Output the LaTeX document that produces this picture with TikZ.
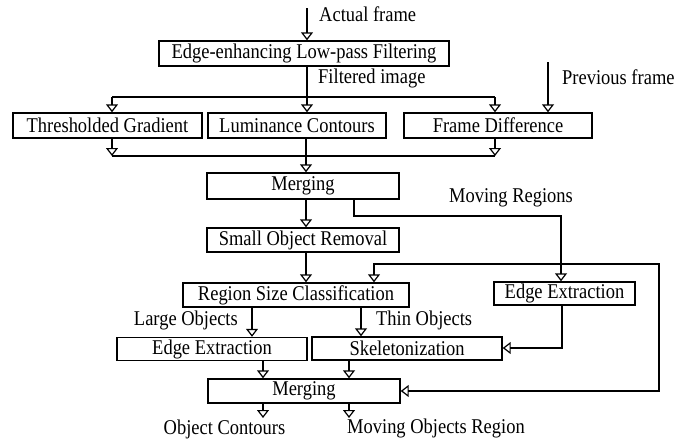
\documentclass[tikz,border=0pt]{standalone}
\usepackage{fontspec}
\setmainfont[FakeStretch=0.88]{Liberation Serif}
\usetikzlibrary{arrows.meta, positioning, calc}
\tikzset{
  tri/.tip   = {Triangle[open, length=8pt, width=12pt]},
  blk/.style = {draw, line width=1.4pt, inner sep=0pt, minimum height=24pt,
                font=\fontsize{21}{23}\selectfont},
  lbl/.style = {inner sep=0pt, font=\fontsize{21}{23}\selectfont},
  flow/.style = {-tri, line width=1.2pt},
}

\begin{document}
\begin{tikzpicture}[x=1pt, y=-1pt]
  \useasboundingbox (0,0) rectangle (680,442);
  % blocks
  \node[blk, minimum width=290pt, minimum height=25pt] (filt) at (304,53.5) {Edge-enhancing Low-pass Filtering};
  \node[blk, minimum width=189pt, minimum height=25pt] (grad) at (107.5,125.5) {Thresholded Gradient};
  \node[blk, minimum width=178pt, minimum height=25pt] (lum) at (297,125.5) {Luminance Contours};
  \node[blk, minimum width=188pt, minimum height=25pt] (diff) at (498,125.5) {Frame Difference};
  \node[blk, minimum width=192pt, minimum height=26pt] (merge) at (303,186) {Merging};
  \node[blk, minimum width=192pt] (small) at (303,240) {Small Object Removal};
  \node[blk, minimum width=226pt] (size) at (296,295) {Region Size Classification};
  \node[blk, minimum width=141pt, minimum height=23pt] (edgeR) at (564.5,293.5) {Edge Extraction};
  \node[blk, minimum width=190pt, minimum height=23pt] (edgeL) at (212,349) {Edge Extraction};
  \node[blk, minimum width=190pt, minimum height=23pt] (skel) at (407,348.5) {Skeletonization};
  \node[blk, minimum width=192pt] (merge2) at (304,391) {Merging};

  % labels
  \node[lbl, anchor=west] (lact) at (319,14) {Actual frame};
  \node[lbl, anchor=west] (lfilt) at (318,78) {Filtered image};
  \node[lbl, anchor=west] (lprev) at (562,77) {Previous frame};
  \node[lbl] (lmov) at (511,198) {Moving Regions};
  \node[lbl, anchor=east] (llarge) at (238,320) {Large Objects};
  \node[lbl, anchor=west] (lthin) at (376,320) {Thin Objects};
  \node[lbl] (lcont) at (224.5,429) {Object Contours};
  \node[lbl] (lreg) at (436,428) {Moving Objects Region};

  % top part
  \coordinate (af) at (307,8);
  \coordinate (pf) at (548,62);
  \coordinate (fj) at (307,97);
  \coordinate (fl) at (112,97);
  \coordinate (fr) at (495,97);
  \draw[flow] (af) -- (af |- filt.north);
  \draw[flow] (fj |- filt.south) -- (fj |- lum.north);
  \draw[line width=1.2pt] (fl) -- (fr);
  \draw[flow] (fl) -- (fl |- grad.north);
  \draw[flow] (fr) -- (fr |- diff.north);
  \draw[flow] (pf) -- (pf |- diff.north);

  % first merge
  \coordinate (jl) at (112,156);
  \coordinate (jr) at (495,156);
  \coordinate (jm) at (306,156);
  \draw[flow] (jl |- grad.south) -- (jl);
  \draw[flow] (jr |- diff.south) -- (jr);
  \draw[line width=1.2pt] (jl) -- (jr);
  \draw[flow] (jm |- lum.south) -- (jm |- merge.north);
  \draw[flow] (jm |- merge.south) -- (jm |- small.north);
  \draw[flow] (jm |- small.south) -- (jm |- size.north);

  % moving regions
  \coordinate (mr1) at (354,216);
  \coordinate (mr2) at (561,216);
  \draw[flow] (mr1 |- merge.south) -- (mr1) -- (mr2) -- (mr2 |- edgeR.north);

  % loop on the right
  \coordinate (fb1) at (374,264);
  \coordinate (fb2) at (659,264);
  \coordinate (fb3) at (fb2 |- merge2.east);
  \draw[tri-tri, line width=1.2pt] (fb1 |- size.north) -- (fb1) -- (fb2) -- (fb3) -- (merge2.east);

  % classification
  \coordinate (lo) at (252,320);
  \coordinate (to) at (361,320);
  \coordinate (es) at (562,348);
  \draw[flow] (lo |- size.south) -- (lo |- edgeL.north);
  \draw[flow] (to |- size.south) -- (to |- skel.north);
  \draw[flow] (es |- edgeR.south) -- (es) -- (es -| skel.east);

  % outputs
  \coordinate (o1) at (263,418);
  \coordinate (o2) at (349,418);
  \draw[flow] (o1 |- edgeL.south) -- (o1 |- merge2.north);
  \draw[flow] (o2 |- skel.south) -- (o2 |- merge2.north);
  \draw[flow] (o1 |- merge2.south) -- (o1);
  \draw[flow] (o2 |- merge2.south) -- (o2);
\end{tikzpicture}
\end{document}
